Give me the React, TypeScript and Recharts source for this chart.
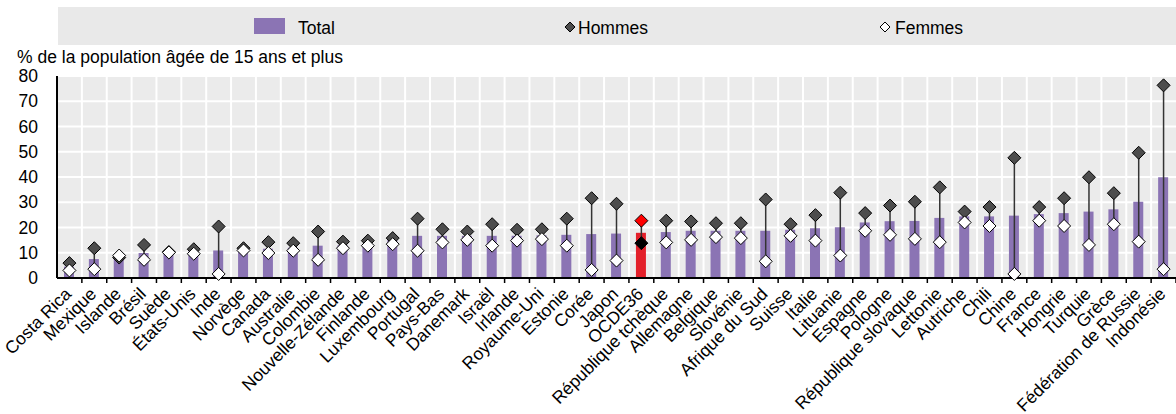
import { ComposedChart, Bar, Line, XAxis, YAxis, CartesianGrid, Cell, ErrorBar } from "recharts";

const pays = [
  "Costa Rica", "Mexique", "Islande", "Brésil", "Suède", "États-Unis", "Inde", "Norvège", "Canada",
  "Australie", "Colombie", "Nouvelle-Zélande", "Finlande", "Luxembourg", "Portugal", "Pays-Bas",
  "Danemark", "Israël", "Irlande", "Royaume-Uni", "Estonie", "Corée", "Japon", "OCDE36",
  "République tchèque", "Allemagne", "Belgique", "Slovénie", "Afrique du Sud", "Suisse", "Italie",
  "Lituanie", "Espagne", "Pologne", "République slovaque", "Lettonie", "Autriche", "Chili", "Chine",
  "France", "Hongrie", "Turquie", "Grèce", "Fédération de Russie", "Indonésie",
];

const total = [
  4.5, 7.5, 8.5, 9.9, 10.2, 10.5, 10.9, 11.3, 11.6, 12, 12.8, 13, 13.5, 15, 16.7, 16.7, 16.7, 16.7,
  16.7, 16.9, 17.1, 17.4, 17.6, 17.9, 18.2, 18.7, 18.7, 18.7, 18.7, 19.1, 19.7, 20.1, 22.0, 22.5,
  22.6, 23.8, 24.4, 24.4, 24.7, 25.3, 25.7, 26.3, 27.2, 30.2, 39.9,
];

const hommes = [
  5.9, 11.8, 8.1, 13.1, 10.3, 11.4, 20.4, 11.8, 14.2, 13.8, 18.4, 14.4, 14.8, 15.8, 23.5, 19.3,
  18.4, 21.3, 19.1, 19.3, 23.5, 31.6, 29.4, 22.7, 22.7, 22.4, 21.7, 21.7, 31.1, 21.3, 24.9, 33.8,
  25.7, 28.7, 30.2, 35.9, 26.3, 28.1, 47.6, 28.1, 31.6, 39.9, 33.6, 49.6, 76.3,
];

const femmes = [
  3.0, 3.5, 8.9, 7.2, 10.1, 9.6, 1.6, 10.9, 9.9, 10.8, 7.2, 11.8, 12.8, 13.4, 10.8, 14.1, 15.1,
  12.8, 14.8, 15.4, 12.8, 3.2, 6.9, 13.8, 14.1, 15.1, 16.2, 15.8, 6.6, 16.7, 14.8, 8.9, 18.7, 17.1,
  15.5, 14.2, 22.0, 20.6, 1.6, 22.7, 20.6, 13.1, 21.3, 14.4, 3.5,
];

const yTicks = [0, 10, 20, 30, 40, 50, 60, 70, 80];

const data = pays.map((name, i) => ({
  name,
  total: total[i],
  hommes: hommes[i],
  femmes: femmes[i],
  // écart H/F pour la ligne verticale (relatif à la valeur Hommes)
  ecart: [Math.max(0, hommes[i] - femmes[i]), Math.max(0, femmes[i] - hommes[i])],
}));

const W = 1176;
const H = 414;
const LEFT = 57;
const TOP = 76;
const BOTTOM = 278;
const FONT = "'Liberation Sans', Arial, sans-serif";
const VIOLET = "#8b74b4";
const ROUGE = "#e3202a";
const BAND = (W - LEFT) / pays.length;

function Losange({ cx, cy, fill, r = 6.5 }: { cx: number; cy: number; fill: string; r?: number }) {
  if (cx == null || cy == null) return null;
  return (
    <path
      d={`M${cx},${cy - r}L${cx + r},${cy}L${cx},${cy + r}L${cx - r},${cy}Z`}
      fill={fill}
      stroke="#000"
      strokeWidth={1}
    />
  );
}

function TickPays(props: any) {
  const { x, y, payload } = props;
  const tx = x + 3;
  const ty = y + 17;
  return (
    <g>
      <line x1={x + BAND / 2} x2={x + BAND / 2} y1={y} y2={y + 5} stroke="#000" strokeWidth={1.5} />
      <text
        x={tx}
        y={ty}
        textAnchor="end"
        transform={`rotate(-45 ${tx} ${ty})`}
        fontSize={17.5}
        fontFamily={FONT}
        fill="#000"
      >
        {payload.value}
      </text>
    </g>
  );
}

export default function App() {
  return (
    <div style={{ position: "absolute", left: 0, top: 0, width: W, height: H, background: "#fff" }}>
      <ComposedChart
        width={W}
        height={H}
        data={data}
        margin={{ top: TOP, right: 0, left: 0, bottom: 0 }}
        barCategoryGap={0}
      >
        <CartesianGrid
          stroke="#fff"
          strokeWidth={2}
          fill="#ebebeb"
          fillOpacity={1}
          verticalCoordinatesGenerator={({ offset }: any) =>
            pays.slice(1).map((_, i) => offset.left + ((i + 1) * offset.width) / pays.length)
          }
        />
        <XAxis
          dataKey="name"
          interval={0}
          height={H - BOTTOM}
          tickSize={0}
          tickMargin={0}
          tickLine={false}
          axisLine={{ stroke: "#000", strokeWidth: 2 }}
          tick={<TickPays />}
        />
        <YAxis
          domain={[0, 80]}
          ticks={yTicks}
          interval={0}
          width={LEFT}
          tickLine={false}
          tickSize={6}
          tickMargin={13}
          axisLine={{ stroke: "#000", strokeWidth: 2 }}
          tick={{ fontSize: 17.5, fill: "#000", fontFamily: FONT }}
        />
        <Bar dataKey="total" barSize={10} fill={VIOLET} isAnimationActive={false}>
          {data.map((d) => (
            <Cell key={d.name} fill={d.name === "OCDE36" ? ROUGE : VIOLET} />
          ))}
        </Bar>
        <Line
          dataKey="hommes"
          stroke="none"
          strokeWidth={0}
          activeDot={false}
          isAnimationActive={false}
          dot={(p: any) => (
            <Losange key={`h${p.index}`} cx={p.cx} cy={p.cy} fill={p.payload.name === "OCDE36" ? "#ff0000" : "#4d4d4d"} />
          )}
        >
          <ErrorBar dataKey="ecart" width={0} stroke="#333" strokeWidth={1.5} direction="y" />
        </Line>
        <Line
          dataKey="femmes"
          stroke="none"
          strokeWidth={0}
          activeDot={false}
          isAnimationActive={false}
          dot={(p: any) => (
            <Losange key={`f${p.index}`} cx={p.cx} cy={p.cy} fill={p.payload.name === "OCDE36" ? "#000" : "#fff"} />
          )}
        />
      </ComposedChart>
      <svg width={W} height={70} style={{ position: "absolute", left: 0, top: 0 }}>
        <rect x={58} y={7} width={W - 58} height={38} fill="#e9e9e9" />
        <rect x={254} y={18} width={31} height={16} fill={VIOLET} />
        <text x={298} y={34} fontSize={17.5} fontFamily={FONT} fill="#000">Total</text>
        <Losange cx={570} cy={27} r={5} fill="#4d4d4d" />
        <text x={578} y={34} fontSize={17.5} fontFamily={FONT} fill="#000">Hommes</text>
        <Losange cx={885} cy={27} r={5} fill="#fff" />
        <text x={895} y={34} fontSize={17.5} fontFamily={FONT} fill="#000">Femmes</text>
        <text x={17} y={63} fontSize={17.5} fontFamily={FONT} fill="#000">
          % de la population âgée de 15 ans et plus
        </text>
      </svg>
    </div>
  );
}
